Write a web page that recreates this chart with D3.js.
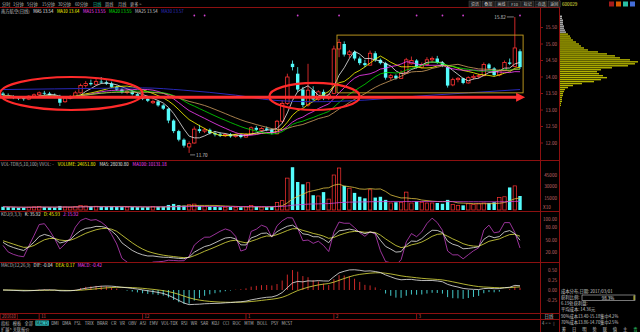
<!DOCTYPE html>
<html lang="zh-CN">
<head>
<meta charset="UTF-8">
<title>南方航空 日线</title>
<script src="https://d3js.org/d3.v7.min.js"></script>
<style>
  body { margin: 0; background: #000; }
  svg { display: block; font-family: "Noto Sans CJK SC", "DejaVu Sans", sans-serif; }
</style>
</head>
<body>
<script>
// ---- daily candles ----
var opens = [13.50,13.45,13.40,13.38,13.36,13.33,13.42,13.46,13.52,13.50,13.44,13.42,13.25,13.36,13.40,13.52,13.74,13.82,13.78,13.86,
  13.84,13.80,13.70,13.62,13.54,13.56,13.48,13.42,13.34,13.22,13.26,13.14,13.04,12.68,12.36,12.10,11.88,12.00,12.42,12.36,
  12.40,12.30,12.26,12.22,12.26,12.20,12.24,12.18,12.26,12.46,12.38,12.44,12.40,12.28,12.66,13.20,14.40,14.10,13.62,13.15,
  13.60,13.32,13.55,13.36,13.50,14.85,15.00,14.68,14.76,14.56,14.42,14.36,14.72,14.52,14.42,13.98,14.04,13.96,14.12,14.40,
  14.50,14.30,14.38,14.52,14.56,14.44,14.30,13.76,13.92,13.96,13.82,13.98,14.02,14.04,14.38,14.26,14.06,14.20,14.44,14.32,14.78];
var highs = [13.55,13.50,13.45,13.42,13.40,13.45,13.50,13.56,13.58,13.55,13.50,13.46,13.40,13.45,13.58,13.80,13.88,13.92,13.95,14.00,
  13.90,13.86,13.74,13.66,13.62,13.60,13.52,13.46,13.40,13.32,13.28,13.18,13.06,12.72,12.40,12.14,12.05,12.50,12.55,12.46,
  12.44,12.36,12.32,12.30,12.30,12.28,12.28,12.30,12.50,12.52,12.48,12.50,12.44,12.70,13.30,14.10,14.50,14.30,13.70,14.40,
  13.72,13.60,13.62,13.50,14.95,15.15,15.08,14.82,14.80,14.62,14.52,14.80,14.78,14.56,14.46,14.10,14.08,14.20,14.58,14.62,
  14.54,14.44,14.60,14.62,14.64,14.48,14.34,13.98,14.00,13.98,14.02,14.08,14.10,14.44,14.42,14.30,14.24,14.50,14.56,15.82,14.84];
var lows = [13.40,13.36,13.33,13.30,13.28,13.30,13.38,13.42,13.45,13.40,13.36,13.12,13.22,13.32,13.38,13.50,13.68,13.74,13.76,13.80,
  13.76,13.66,13.58,13.50,13.48,13.44,13.38,13.30,13.24,13.18,13.10,13.00,12.60,12.30,12.05,11.86,11.70,11.98,12.30,12.30,
  12.26,12.20,12.18,12.18,12.16,12.16,12.14,12.16,12.24,12.36,12.34,12.36,12.26,12.26,12.60,13.15,14.20,13.55,13.08,13.10,
  13.28,13.28,13.30,13.30,13.48,14.60,14.62,14.58,14.50,14.36,14.30,14.34,14.46,14.38,13.92,13.90,13.92,13.94,14.10,14.38,
  14.26,14.26,14.34,14.44,14.40,14.30,13.68,13.72,13.84,13.78,13.80,13.92,13.96,14.02,14.22,14.02,14.02,14.18,14.36,14.30,14.24];
var closes = [13.45,13.40,13.38,13.35,13.33,13.42,13.46,13.52,13.50,13.44,13.40,13.22,13.36,13.40,13.52,13.74,13.80,13.78,13.86,13.84,
  13.80,13.70,13.62,13.54,13.56,13.48,13.42,13.34,13.28,13.26,13.14,13.04,12.68,12.36,12.10,11.92,11.98,12.42,12.36,12.40,
  12.30,12.26,12.22,12.26,12.20,12.24,12.18,12.26,12.46,12.40,12.44,12.40,12.30,12.66,13.20,14.00,14.30,13.62,13.15,13.60,
  13.32,13.55,13.36,13.46,14.85,15.05,14.68,14.76,14.56,14.42,14.36,14.72,14.52,14.42,13.98,14.04,13.96,14.12,14.52,14.50,
  14.30,14.38,14.52,14.56,14.44,14.34,13.74,13.92,13.96,13.82,13.98,14.02,14.04,14.38,14.26,14.06,14.20,14.44,14.40,14.88,14.30];
var volumes = [4200,3800,3500,3000,3300,3600,4000,4400,3900,3600,3400,5200,3800,3500,4200,5800,5200,4600,4800,4300,
  4000,4500,4200,3800,3600,3900,3700,3500,3800,4600,4200,4300,6500,7800,6200,5600,6800,7600,5400,4200,
  4400,3900,3600,3500,3800,3400,3600,4100,5600,4300,3800,3700,4100,9500,12000,41000,55000,36000,33000,35000,
  19000,18000,23000,14000,45000,54000,31000,28000,22000,17000,15000,26000,16000,17000,13000,9000,10000,10000,23000,9000,
  11000,10000,9000,9000,9000,8000,13000,7000,6000,6000,8000,7000,8000,9000,9000,10000,16000,17000,29000,31000,18000];

// long moving average (dark blue), read at a few bars
var longMaIdx = [0, 10, 20, 27, 35, 45, 52, 60, 70, 80, 90, 100];
var longMaVal = [13.62, 13.64, 13.66, 13.67, 13.60, 13.45, 13.30, 13.25, 13.30, 13.42, 13.52, 13.62];

// chip distribution
var chipPrices = [15.84,15.78,15.72,15.66,15.60,15.54,15.48,15.42,15.36,15.30,15.24,15.18,15.12,15.06,15.00,14.94,14.88,14.82,14.76,14.70,
  14.64,14.58,14.52,14.46,14.40,14.34,14.28,14.22,14.16,14.10,14.04,13.98,13.92,13.86,13.80,13.74,13.68,13.62,13.56,13.50,
  13.44,13.38,13.32,13.26,13.20,13.14];
var chipValues = [2,2,3,3,3,4,4,5,6,8,10,11,13,16,19,21,24,28,38,47,
  55,60,70,78,75,68,52,41,37,39,43,47,41,34,22,13,8,5,4,3,
  3,2,2,2,1,1];

// axis ticks
var priceTicks = [15.5, 15.0, 14.5, 14.0, 13.5, 13.0, 12.5, 12.0];
var volTicks = [45000, 30000, 15000];
var kdjTicks = [100, 80, 50, 20];
var macdTicks = [0.5, 0.25, 0, -0.25];
var dateIdx = [7, 27, 47, 64, 80];
var dateLabels = ["11", "12", "1", "2", "3"];
var eventIdx = [37, 39, 57, 65, 80, 85, 89, 100];

// annotations drawn on the picture (bar index / price)
var ovalIdx = [[-0.6, 27], [51.5, 69]];
var ovalPrice = [[13.0, 14.0], [13.0, 13.82]];
var boxIdx = [64.6, 100.6];
var boxPrice = [13.52, 15.27];
var arrowPrice = 13.39;
var arrowIdx = [-0.6, 100.8];

var RED = "#ff3232", CYAN = "#54fcfc", FRAME = "#8c1010", AXIS = "#c06a6a";

var svg = d3.select("body").append("svg").attr("width", 640).attr("height", 332).style("background", "#000");

var n = closes.length;
var x = d3.scaleLinear().domain([0, n - 1]).range([3, 520]);
var yPrice = d3.scaleLinear().domain([12, 15.5]).range([143, 27.5]);
var yVol = d3.scaleLinear().domain([0, 45000]).range([210, 175]);
var yKdj = d3.scaleLinear().domain([20, 100]).range([252.5, 219.2]);
var yMacd = d3.scaleLinear().domain([-0.5, 0.5]).range([310, 270]);
var chipW = d3.scaleLinear().domain([0, 80]).range([0, 80]);

function txt(g, xx, yy, s, color, size, anchor) {
  return g.append("text").attr("x", xx).attr("y", yy).attr("fill", color)
    .attr("font-size", size || 4.6).attr("text-anchor", anchor || "start").text(s);
}
// a row of coloured texts placed one after another
function flow(g, x0, yy, segs, size, gap) {
  var cx = x0;
  segs.forEach(function (s) {
    var t = txt(g, cx, yy, s[0], s[1], size);
    cx += t.node().getComputedTextLength() + gap;
  });
}
function ma(arr, p) {
  return arr.map(function (d, i) { return d3.mean(arr.slice(Math.max(0, i - p + 1), i + 1)); });
}
function ema(arr, p) {
  var out = [], e = arr[0];
  arr.forEach(function (v, i) { if (i > 0) e = (2 * v + (p - 1) * e) / (p + 1); out.push(e); });
  return out;
}
function up(i) { return closes[i] >= opens[i]; }

// clip areas for the panels
var defs = svg.append("defs");
[["cMain", 8, 152], ["cVol", 161, 50], ["cKdj", 212, 50], ["cMacd", 263, 50]].forEach(function (c) {
  defs.append("clipPath").attr("id", c[0]).append("rect").attr("x", 0).attr("y", c[1]).attr("width", 540).attr("height", c[2]);
});

// ---- frame ----
var frame = svg.append("g").attr("stroke", FRAME).attr("stroke-width", 1);
[7.5, 160.5, 211.5, 262.5, 313.5, 319.5].forEach(function (yy) {
  frame.append("line").attr("x1", 0).attr("x2", 559.5).attr("y1", yy).attr("y2", yy);
});
frame.append("line").attr("x1", 540.5).attr("x2", 540.5).attr("y1", 7.5).attr("y2", 332);
frame.append("line").attr("x1", 559.5).attr("x2", 559.5).attr("y1", 0).attr("y2", 332);

// ---- toolbar ----
var bar = svg.append("g");
var tabs = ["分时", "1分钟", "5分钟", "15分钟", "30分钟", "60分钟", "日线", "周线", "月线", "更多 >"];
var tabX = [2, 13, 27, 42, 58, 75, 93, 105, 118, 130];
tabs.forEach(function (t, k) { txt(bar, tabX[k], 5.6, t, t === "日线" ? "#20c8a0" : "#b8b8b8", 4.2); });
var btns = ["资讯", "叠加", "画线", "F10", "标记", "-自选", "返回"];
btns.forEach(function (b, k) {
  var bx = 469 + k * 13.2;
  bar.append("rect").attr("x", bx).attr("y", 1).attr("width", 12).attr("height", 6)
    .attr("fill", "#1c1c1c").attr("stroke", "#4a4a4a").attr("stroke-width", 0.5);
  txt(bar, bx + 6, 5.6, b, "#c8c8c8", 4.0, "middle");
});
txt(bar, 562, 5.6, "600029", "#e0e040", 4.6);
[["#c02020", 609], ["#ff6a00", 616], ["#30e0c0", 623], ["#5080ff", 630]].forEach(function (ic) {
  bar.append("rect").attr("x", ic[1]).attr("y", 1.5).attr("width", 5).attr("height", 5).attr("fill", ic[0]).attr("opacity", 0.85);
});

// ---- main title ----
flow(svg, 1, 13, [["南方航空(日线)", "#c0c0c0"], ["MA5 13.54", "#e8e8e8"], ["MA10 13.64", "#ffff00"],
  ["MA15 13.55", "#ff40ff"], ["MA20 13.55", "#00e000"], ["MA25 13.54", "#c8c8c8"], ["MA30 13.57", "#3030c8"]], 4.3, 3.5);

// ---- main panel ----
var main = svg.append("g").attr("clip-path", "url(#cMain)");
var bw = 3.4;
var cg = main.selectAll("g.c").data(d3.range(n)).join("g").attr("class", "c");
cg.append("line")
  .attr("x1", function (i) { return x(i); }).attr("x2", function (i) { return x(i); })
  .attr("y1", function (i) { return yPrice(highs[i]); }).attr("y2", function (i) { return yPrice(lows[i]); })
  .attr("stroke", function (i) { return up(i) ? RED : CYAN; }).attr("stroke-width", 0.8);
cg.append("rect")
  .attr("x", function (i) { return x(i) - bw / 2; })
  .attr("y", function (i) { return yPrice(Math.max(opens[i], closes[i])); })
  .attr("width", bw)
  .attr("height", function (i) { return Math.max(0.8, Math.abs(yPrice(opens[i]) - yPrice(closes[i]))); })
  .attr("fill", function (i) { return up(i) ? "#000" : CYAN; })
  .attr("stroke", function (i) { return up(i) ? RED : "none"; }).attr("stroke-width", 0.8);

var priceLine = d3.line().x(function (d, i) { return x(i); }).y(function (d) { return yPrice(d); });
[[5, "#e8e8e8"], [10, "#ffff00"], [15, "#ff40ff"], [20, "#00e000"], [25, "#d0a060"]].forEach(function (m) {
  main.append("path").attr("d", priceLine(ma(closes, m[0]))).attr("fill", "none").attr("stroke", m[1]).attr("stroke-width", 0.8);
});
main.append("path")
  .attr("d", d3.line().curve(d3.curveMonotoneX).x(function (d, k) { return x(longMaIdx[k]); }).y(function (d) { return yPrice(d); })(longMaVal))
  .attr("fill", "none").attr("stroke", "#2828b8").attr("stroke-width", 1);

// event markers
main.selectAll("circle.ev").data(eventIdx).join("circle").attr("class", "ev")
  .attr("cx", function (i) { return x(i); }).attr("cy", 15.5).attr("r", 0.9).attr("fill", "#d040d0");

// high / low labels
var hiI = d3.maxIndex(highs), loI = d3.minIndex(lows);
main.append("line").attr("x1", x(hiI) - 1).attr("x2", x(hiI) - 8).attr("y1", yPrice(highs[hiI])).attr("y2", yPrice(highs[hiI]))
  .attr("stroke", "#d0d0d0").attr("stroke-width", 0.6);
txt(main, x(hiI) - 9, yPrice(highs[hiI]) + 1.8, highs[hiI].toFixed(2), "#d0d0d0", 4.6, "end");
main.append("line").attr("x1", x(loI) + 1).attr("x2", x(loI) + 6).attr("y1", yPrice(lows[loI]) + 2).attr("y2", yPrice(lows[loI]) + 2)
  .attr("stroke", "#d0d0d0").attr("stroke-width", 0.6);
txt(main, x(loI) + 7, yPrice(lows[loI]) + 3.8, lows[loI].toFixed(2), "#d0d0d0", 4.6);

// annotations
main.append("rect").attr("x", x(boxIdx[0])).attr("y", yPrice(boxPrice[1]))
  .attr("width", x(boxIdx[1]) - x(boxIdx[0])).attr("height", yPrice(boxPrice[0]) - yPrice(boxPrice[1]))
  .attr("fill", "none").attr("stroke", "#c8a020").attr("stroke-width", 0.9);
var ay = yPrice(arrowPrice);
main.append("line").attr("x1", x(arrowIdx[0])).attr("x2", x(arrowIdx[1]) - 6).attr("y1", ay).attr("y2", ay)
  .attr("stroke", "#ff3030").attr("stroke-width", 3);
main.append("path").attr("d", "M" + (x(arrowIdx[1]) - 8) + "," + (ay - 4.5) + "L" + (x(arrowIdx[1]) + 1) + "," + ay +
  "L" + (x(arrowIdx[1]) - 8) + "," + (ay + 4.5) + "Z").attr("fill", "#ff3030");
ovalIdx.forEach(function (o, k) {
  var x0 = x(o[0]), x1 = x(o[1]), y0 = yPrice(ovalPrice[k][1]), y1 = yPrice(ovalPrice[k][0]);
  svg.append("ellipse").attr("cx", (x0 + x1) / 2).attr("cy", (y0 + y1) / 2).attr("rx", (x1 - x0) / 2).attr("ry", (y1 - y0) / 2)
    .attr("fill", "none").attr("stroke", "#ff2a2a").attr("stroke-width", 2.2);
});

// price axis
priceTicks.forEach(function (p) {
  txt(svg, 557, yPrice(p) + 1.8, p.toFixed(2), AXIS, 4.6, "end");
  svg.append("line").attr("x1", 540.5).attr("x2", 543).attr("y1", yPrice(p)).attr("y2", yPrice(p)).attr("stroke", FRAME);
});

// chip distribution
svg.append("g").selectAll("rect").data(chipPrices).join("rect")
  .attr("x", 560).attr("y", function (p) { return yPrice(p) - 0.7; })
  .attr("width", function (p, k) { return chipW(chipValues[k]); }).attr("height", 1.4)
  .attr("fill", function (p) { return p > 15.3 ? "#b8b8b8" : "#b4b400"; });

// ---- volume panel ----
flow(svg, 1, 166, [["VOL-TDX(5,10,100) VVOL: -", "#b8b8b8"], ["VOLUME: 24651.80", "#ffff00"],
  ["MA5: 28030.80", "#e8e8e8"], ["MA100: 10131.18", "#ff40ff"]], 4.4, 4);
var vol = svg.append("g").attr("clip-path", "url(#cVol)");
vol.selectAll("rect").data(d3.range(n)).join("rect")
  .attr("x", function (i) { return x(i) - bw / 2; }).attr("y", function (i) { return yVol(volumes[i]); })
  .attr("width", bw).attr("height", function (i) { return Math.max(0.8, yVol(0) - yVol(volumes[i])); })
  .attr("fill", function (i) { return up(i) ? "#000" : CYAN; })
  .attr("stroke", function (i) { return up(i) ? RED : "none"; }).attr("stroke-width", 0.7);
var volLine = d3.line().x(function (d, i) { return x(i); }).y(function (d) { return yVol(d); });
vol.append("path").attr("d", volLine(ma(volumes, 10))).attr("fill", "none").attr("stroke", "#e0c040").attr("stroke-width", 0.8);
vol.append("path").attr("d", volLine(ma(volumes, 100))).attr("fill", "none").attr("stroke", "#d040d0").attr("stroke-width", 0.8);
volTicks.forEach(function (v) { txt(svg, 557, yVol(v) + 1.8, String(v), AXIS, 4.6, "end"); });
txt(svg, 543, 208.5, "X10", AXIS, 4.6);

// ---- KDJ panel ----
var kArr = [], dArr = [], jArr = [], K = 50, D = 50;
closes.forEach(function (c, i) {
  var s = Math.max(0, i - 8);
  var hh = d3.max(highs.slice(s, i + 1)), ll = d3.min(lows.slice(s, i + 1));
  var rsv = hh === ll ? 50 : (c - ll) / (hh - ll) * 100;
  K = (2 * K + rsv) / 3; D = (2 * D + K) / 3;
  kArr.push(K); dArr.push(D); jArr.push(3 * K - 2 * D);
});
flow(svg, 1, 215.5, [["KDJ(9,3,3)", "#b8b8b8"], ["K: 35.92", "#e8e8e8"], ["D: 45.93", "#ffff00"], ["J: 15.92", "#ff40ff"]], 4.4, 3);
var kdj = svg.append("g").attr("clip-path", "url(#cKdj)");
var kLine = d3.line().x(function (d, i) { return x(i); }).y(function (d) { return yKdj(d); });
[[jArr, "#c040c0"], [dArr, "#e0e040"], [kArr, "#e8e8e8"]].forEach(function (l) {
  kdj.append("path").attr("d", kLine(l[0])).attr("fill", "none").attr("stroke", l[1]).attr("stroke-width", 0.8);
});
kdjTicks.forEach(function (v) { txt(svg, 557, yKdj(v) + 1.8, v.toFixed(2), AXIS, 4.6, "end"); });

// ---- MACD panel ----
var e12 = ema(closes, 12), e26 = ema(closes, 26);
var dif = e12.map(function (v, i) { return v - e26[i]; });
var dea = ema(dif, 9);
var hist = dif.map(function (v, i) { return 2 * (v - dea[i]); });
flow(svg, 1, 267, [["MACD(12,26,9)", "#b8b8b8"], ["DIF: -0.04", "#e8e8e8"], ["DEA: 0.17", "#ffff00"], ["MACD: -0.42", "#ff40ff"]], 4.4, 3);
var mac = svg.append("g").attr("clip-path", "url(#cMacd)");
mac.selectAll("line").data(hist).join("line")
  .attr("x1", function (d, i) { return x(i); }).attr("x2", function (d, i) { return x(i); })
  .attr("y1", yMacd(0)).attr("y2", function (d) { return yMacd(d); })
  .attr("stroke", function (d) { return d >= 0 ? RED : CYAN; }).attr("stroke-width", 0.8);
var mLine = d3.line().x(function (d, i) { return x(i); }).y(function (d) { return yMacd(d); });
mac.append("path").attr("d", mLine(dea)).attr("fill", "none").attr("stroke", "#e0e040").attr("stroke-width", 0.8);
mac.append("path").attr("d", mLine(dif)).attr("fill", "none").attr("stroke", "#e8e8e8").attr("stroke-width", 0.8);
macdTicks.forEach(function (v) { txt(svg, 557, yMacd(v) + 1.8, v.toFixed(2), AXIS, 4.6, "end"); });

// ---- date row and bottom tabs ----
svg.append("rect").attr("x", 0.5).attr("y", 314).attr("width", 17).attr("height", 5).attr("fill", "none").attr("stroke", FRAME).attr("stroke-width", 0.6);
txt(svg, 2, 318.3, "201610", "#d05050", 4.2);
dateIdx.forEach(function (i, k) {
  svg.append("line").attr("x1", x(i)).attr("x2", x(i)).attr("y1", 313.5).attr("y2", 319.5).attr("stroke", FRAME);
  txt(svg, x(i) + 2, 318.3, dateLabels[k], "#d05050", 4.4);
});
txt(svg, 549, 318.3, "日线", "#c8c8c8", 4.4, "middle");
txt(svg, 549, 324.5, "4 < > ‖", "#a0a0a0", 4.2, "middle");

var tabNames = ["指标", "模板", "全部", "MACD", "DMI", "DMA", "FSL", "TRIX", "BRAR", "CR", "VR", "OBV", "ASI", "EMV", "VOL-TDX",
  "RSI", "WR", "SAR", "KDJ", "CCI", "ROC", "MTM", "BOLL", "PSY", "MCST"];
var tabG = svg.append("g");
var tx = 1;
tabNames.forEach(function (t) {
  var tt = txt(tabG, tx, 324.6, t, t === "MACD" ? "#000" : "#b8b8b8", 4.2);
  var w = tt.node().getComputedTextLength();
  if (t === "MACD") {
    tabG.append("rect").attr("x", tx - 1).attr("y", 320.5).attr("width", w + 2).attr("height", 5.2).attr("fill", "#30c0c0");
    tt.raise();
  }
  tx += w + 3.4;
});
txt(svg, 1, 330.8, "扩展^ 关联报价", "#b8b8b8", 4.2);

// ---- cost info (right panel) ----
var info = svg.append("g");
txt(info, 561, 292.8, "成本分布,日期: 2017/03/01", "#c8c8c8", 4.3);
txt(info, 561, 299.2, "获利比例:", "#c8c8c8", 4.3);
info.append("rect").attr("x", 582).attr("y", 295).attr("width", 53).attr("height", 5.5).attr("fill", "none").attr("stroke", "#c8c8c8").attr("stroke-width", 0.6);
info.append("rect").attr("x", 633.5).attr("y", 295.5).attr("width", 1.2).attr("height", 4.5).attr("fill", "#c8c840");
txt(info, 608, 299.5, "98.3%", "#e0e0e0", 4.3, "middle");
txt(info, 561, 305.4, "6.19处获利盘:", "#c8c8c8", 4.3);
txt(info, 561, 311.4, "平均成本: 14.36元", "#c8c8c8", 4.3);
txt(info, 561, 317.6, "90%成本13.40-15.18集中4.2%", "#c8c8c8", 4.2);
txt(info, 561, 323.8, "70%成本13.86-14.70集中2.5%", "#c8c8c8", 4.2);
["筹", "日", "明", "势", "联", "值", "主", "青"].forEach(function (c, k) {
  txt(info, 564 + k * 10.2, 330.8, c, k === 7 ? "#30d070" : "#c8c8c8", 4.3, "middle");
});
</script>
</body>
</html>
